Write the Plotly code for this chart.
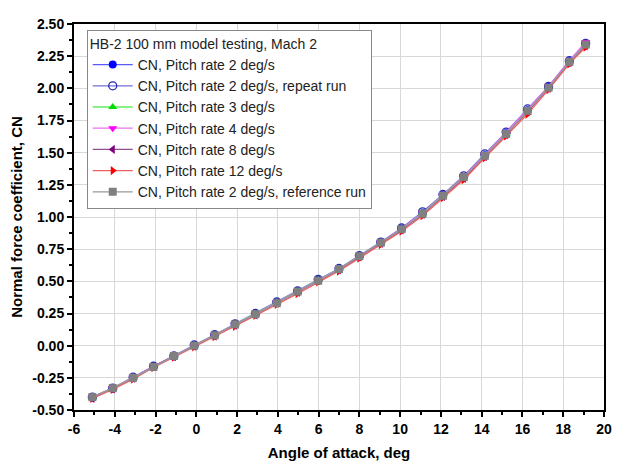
import plotly.graph_objects as go

alpha = [-5.1, -4.1, -3.1, -2.1, -1.1, -0.1, 0.9, 1.9, 2.9, 3.95, 4.97, 5.98,
         7.0, 8.0, 9.05, 10.07, 11.1, 12.1, 13.12, 14.15, 15.2, 16.25, 17.28, 18.3, 19.1]

cn_rate2 = [-0.40, -0.33, -0.25, -0.16, -0.08, 0.00, 0.08, 0.165, 0.245, 0.335, 0.42, 0.51,
            0.595, 0.695, 0.80, 0.91, 1.03, 1.17, 1.31, 1.48, 1.65, 1.83, 2.01, 2.21, 2.34]
cn_rate2_repeat = [-0.40, -0.33, -0.245, -0.16, -0.08, 0.005, 0.085, 0.17, 0.25, 0.34, 0.425, 0.515,
                   0.60, 0.70, 0.805, 0.915, 1.04, 1.175, 1.32, 1.49, 1.66, 1.84, 2.015, 2.215, 2.35]
cn_rate3 = [-0.40, -0.33, -0.25, -0.165, -0.08, 0.00, 0.08, 0.165, 0.245, 0.335, 0.42, 0.51,
            0.595, 0.695, 0.80, 0.905, 1.03, 1.165, 1.31, 1.475, 1.645, 1.825, 2.005, 2.205, 2.34]
cn_rate4 = [-0.40, -0.33, -0.25, -0.16, -0.08, 0.00, 0.08, 0.165, 0.245, 0.335, 0.42, 0.51,
            0.595, 0.695, 0.80, 0.91, 1.03, 1.17, 1.315, 1.48, 1.655, 1.835, 2.015, 2.215, 2.36]
cn_rate8 = [-0.41, -0.335, -0.255, -0.165, -0.085, -0.005, 0.075, 0.16, 0.24, 0.33, 0.415, 0.505,
            0.59, 0.69, 0.795, 0.90, 1.02, 1.16, 1.30, 1.47, 1.64, 1.82, 2.00, 2.20, 2.33]
cn_rate12 = [-0.41, -0.34, -0.26, -0.17, -0.09, -0.01, 0.07, 0.15, 0.235, 0.32, 0.405, 0.495,
             0.58, 0.68, 0.785, 0.89, 1.01, 1.15, 1.29, 1.46, 1.63, 1.80, 1.99, 2.19, 2.32]
cn_reference = [-0.40, -0.33, -0.25, -0.165, -0.08, 0.00, 0.08, 0.165, 0.245, 0.33, 0.42, 0.505,
                0.595, 0.695, 0.80, 0.905, 1.025, 1.165, 1.31, 1.475, 1.645, 1.825, 2.005, 2.205, 2.34]

series_names = [
    "CN, Pitch rate 2 deg/s",
    "CN, Pitch rate 2 deg/s, repeat run",
    "CN, Pitch rate 3 deg/s",
    "CN, Pitch rate 4 deg/s",
    "CN, Pitch rate 8 deg/s",
    "CN, Pitch rate 12 deg/s",
    "CN, Pitch rate 2 deg/s, reference run",
]
series_values = [cn_rate2, cn_rate2_repeat, cn_rate3, cn_rate4, cn_rate8, cn_rate12, cn_reference]

x_ticks = [-6, -4, -2, 0, 2, 4, 6, 8, 10, 12, 14, 16, 18, 20]
y_ticks = [-0.5, -0.25, 0, 0.25, 0.5, 0.75, 1.0, 1.25, 1.5, 1.75, 2.0, 2.25, 2.5]

styles = [
    dict(symbol="circle", mcolor="#0000ff", lcolor="#5a5aff", mline="#0000ff"),
    dict(symbol="circle-open", mcolor="#2a2ab0", lcolor="#7070d8", mline="#2a2ab0"),
    dict(symbol="triangle-up", mcolor="#00dd00", lcolor="#60ee60", mline="#00dd00"),
    dict(symbol="triangle-down", mcolor="#ff00ff", lcolor="#ee70ee", mline="#ff00ff"),
    dict(symbol="triangle-left", mcolor="#800080", lcolor="#905090", mline="#800080"),
    dict(symbol="triangle-right", mcolor="#ff0000", lcolor="#ee6060", mline="#ff0000"),
    dict(symbol="square", mcolor="#808080", lcolor="#9a9a9a", mline="#808080"),
]

fig = go.Figure()
for name, vals, st in zip(series_names, series_values, styles):
    fig.add_trace(go.Scatter(
        x=alpha, y=vals, name=name, mode="lines+markers",
        line=dict(color=st["lcolor"], width=1.3),
        marker=dict(symbol=st["symbol"], color=st["mcolor"], size=8,
                    line=dict(color=st["mline"], width=1.3 if "open" in st["symbol"] else 0)),
    ))

font_family = "Liberation Sans, Arial, sans-serif"

fig.update_layout(
    width=612, height=459,
    margin=dict(l=66, r=8, t=8, b=57),
    paper_bgcolor="white", plot_bgcolor="white",
    font=dict(family=font_family, size=14, color="black"),
    legend=dict(
        title=dict(text="HB-2 100 mm model testing, Mach 2", font=dict(size=14, color="#222")),
        x=0.024, y=0.985, xanchor="left", yanchor="top",
        bgcolor="white", bordercolor="#888", borderwidth=1,
        font=dict(size=14, color="#222"),
        tracegroupgap=0, itemwidth=40,
    ),
    xaxis=dict(
        range=[-6, 20], tickvals=x_ticks, ticktext=[f"<b>{v}</b>" for v in x_ticks],
        showgrid=True, gridcolor="#d8d8d8", gridwidth=1,
        showline=True, linecolor="black", linewidth=2, mirror=True,
        ticks="outside", ticklen=5, tickwidth=2, tickcolor="black",
        minor=dict(dtick=1, ticks="outside", ticklen=3, tickwidth=1.5, tickcolor="black", showgrid=False),
        zeroline=False,
        tickfont=dict(size=14),
        title=dict(text="<b>Angle of attack, deg</b>", font=dict(size=15), standoff=12),
    ),
    yaxis=dict(
        range=[-0.5, 2.5], tickvals=y_ticks, ticktext=[f"<b>{v:.2f}</b>" for v in y_ticks],
        showgrid=True, gridcolor="#d8d8d8", gridwidth=1,
        showline=True, linecolor="black", linewidth=2, mirror=True,
        ticks="outside", ticklen=5, tickwidth=2, tickcolor="black",
        minor=dict(dtick=0.125, ticks="outside", ticklen=3, tickwidth=1.5, tickcolor="black", showgrid=False),
        zeroline=False,
        tickfont=dict(size=14),
        title=dict(text="<b>Normal force coefficient, CN</b>", font=dict(size=15), standoff=6),
    ),
)

fig.write_html("out.html")
